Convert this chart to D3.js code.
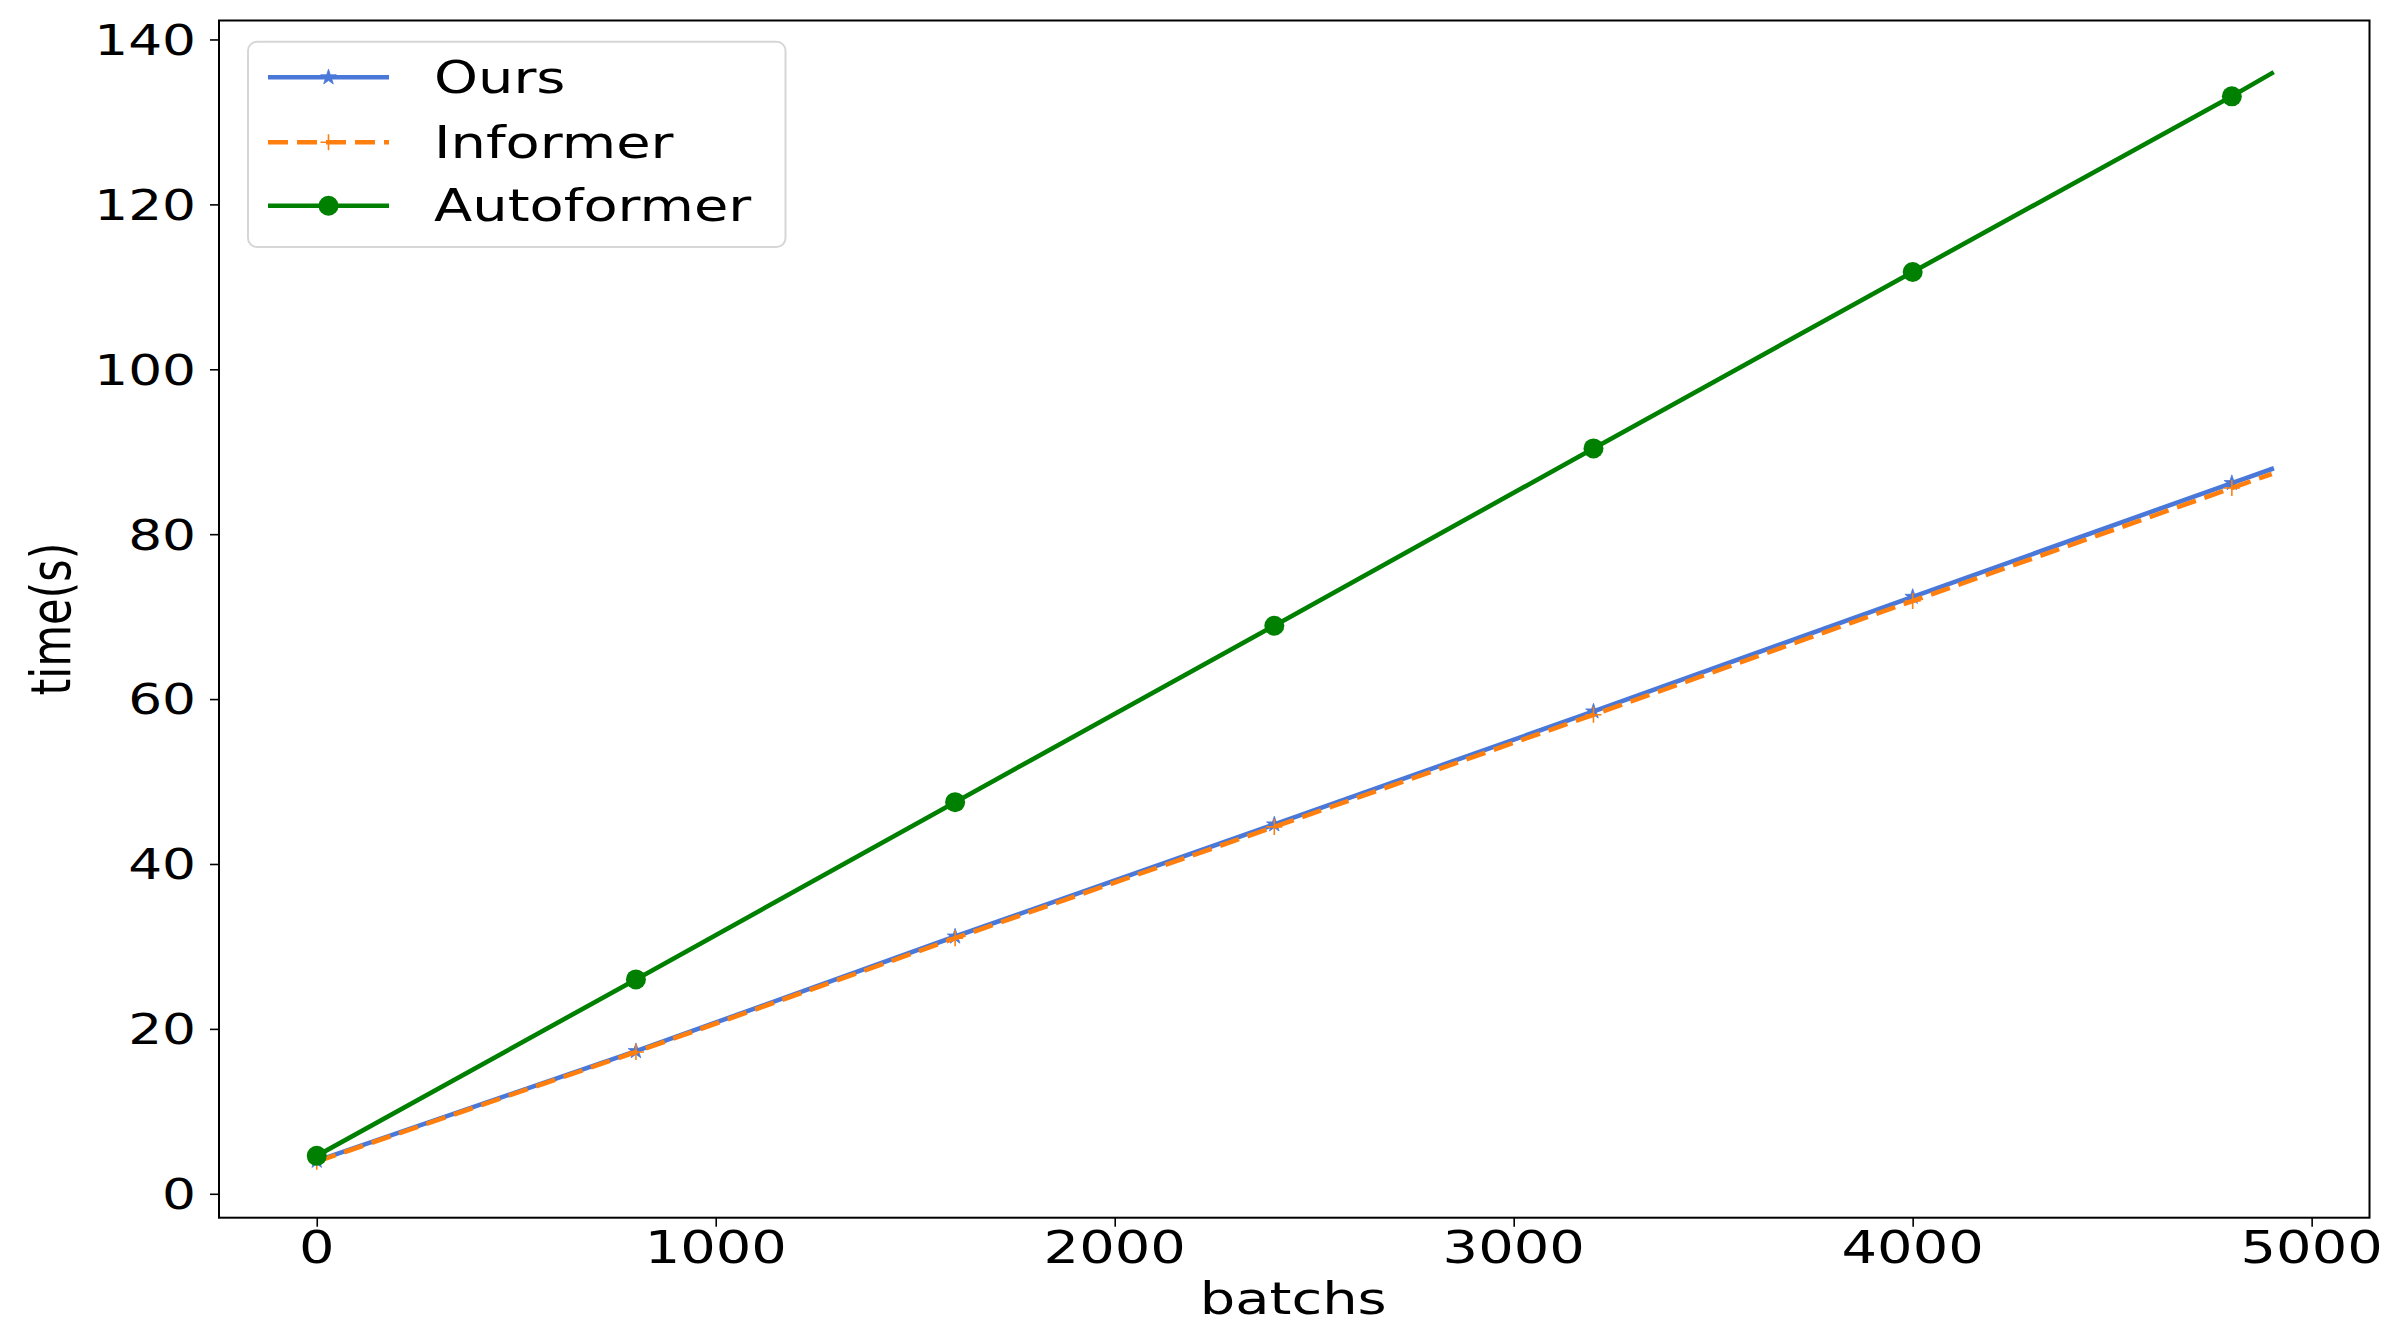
<!DOCTYPE html>
<html>
<head>
<meta charset="utf-8">
<script src="https://cdn.jsdelivr.net/npm/d3@7"></script>
<style>
  html, body { margin: 0; padding: 0; background: #fff; }
  svg { display: block; }
  text { font-family: "DejaVu Sans", sans-serif; fill: #000; }
</style>
</head>
<body>
<div id="chart"></div>
<script>
// ---- data ----
const batches    = [0, 800, 1600, 2400, 3200, 4000, 4800, 4900];
const ours       = [4.0, 17.3, 31.2, 44.8, 58.5, 72.4, 86.2, 87.9];
const informer   = [3.9, 17.2, 31.0, 44.5, 58.1, 71.9, 85.6, 87.3];
const autoformer = [4.6, 26.0, 47.5, 68.9, 90.4, 111.8, 133.1, 135.9];
const markerStep = 800;
const seriesNames = ["Ours", "Informer", "Autoformer"];
const xTicks = [0, 1000, 2000, 3000, 4000, 5000];
const yTicks = [0, 20, 40, 60, 80, 100, 120, 140];
const xLabel = "batchs";
const yLabel = "time(s)";

// ---- layout ----
const W = 2401, H = 1339;
const SX = 1.27; // horizontal stretch of the reference image (text)
const pL = 219, pR = 2369.5, pT = 20.5, pB = 1217.7;

const svg = d3.select("#chart").append("svg")
  .attr("width", W).attr("height", H);

const x = d3.scaleLinear().domain([-245, 5145]).range([pL, pR]);
const y = d3.scaleLinear().domain([-2.9, 142.3]).range([pB, pT]);

const series = [
  { name: seriesNames[0], values: ours, color: "#4a78d8", dash: null, marker: "star" },
  { name: seriesNames[1], values: informer, color: "#ff7f0e", dash: "20,9", marker: "plus" },
  { name: seriesNames[2], values: autoformer, color: "#008000", dash: null, marker: "circle" }
];

// axes (ticks only, labels drawn separately to apply stretch)
const xAxis = d3.axisBottom(x).tickValues(xTicks).tickSize(9).tickFormat("");
const yAxis = d3.axisLeft(y).tickValues(yTicks).tickSize(9).tickFormat("");
const gx = svg.append("g").attr("transform", `translate(0,${pB})`).call(xAxis);
const gy = svg.append("g").attr("transform", `translate(${pL},0)`).call(yAxis);
[gx, gy].forEach(g => {
  g.select(".domain").remove();
  g.selectAll(".tick line").attr("stroke", "#000").attr("stroke-width", 1.6);
});

// tick labels
svg.append("g").selectAll("g").data(xTicks).join("g")
  .attr("transform", d => `translate(${x(d)},${1263}) scale(${SX},1)`)
  .append("text").attr("text-anchor", "middle").attr("font-size", 44).text(d => d);

svg.append("g").selectAll("g").data(yTicks).join("g")
  .attr("transform", d => `translate(${196},${y(d)}) scale(${SX},1)`)
  .append("text").attr("text-anchor", "end").attr("dy", "0.365em").attr("font-size", 42).text(d => d);

// axis titles
svg.append("g").attr("transform", `translate(${(pL + pR) / 2 - 1},1314) scale(${SX},1)`)
  .append("text").attr("text-anchor", "middle").attr("font-size", 44).text(xLabel);
svg.append("g").attr("transform", `translate(70,${(pT + pB) / 2}) rotate(-90) scale(1,${SX})`)
  .append("text").attr("text-anchor", "middle").attr("font-size", 43).text(yLabel);

// clip
svg.append("clipPath").attr("id", "clip").append("rect")
  .attr("x", pL).attr("y", pT).attr("width", pR - pL).attr("height", pB - pT);

const plot = svg.append("g").attr("clip-path", "url(#clip)");
const line = d3.line().x(d => x(d[0])).y(d => y(d[1]));

const starSym = d3.symbol().type(d3.symbolStar).size(75);
const circleR = 10;

function drawMarker(g, s, cx, cy) {
  if (s.marker === "star") {
    g.append("path").attr("d", starSym()).attr("transform", `translate(${cx},${cy})`)
      .attr("fill", s.color).attr("stroke", s.color).attr("stroke-width", 0.8);
  } else if (s.marker === "plus") {
    const r = 8;
    g.append("path").attr("d", `M${cx - r},${cy}H${cx + r}M${cx},${cy - r}V${cy + r}`)
      .attr("stroke", s.color).attr("stroke-width", 1.6).attr("fill", "none");
  } else {
    g.append("circle").attr("cx", cx).attr("cy", cy).attr("r", circleR).attr("fill", s.color);
  }
}

series.forEach(s => {
  const pts = batches.map((b, i) => [b, s.values[i]]);
  plot.append("path").datum(pts).attr("d", line)
    .attr("fill", "none").attr("stroke", s.color).attr("stroke-width", 4.6)
    .attr("stroke-dasharray", s.dash).attr("stroke-linecap", s.dash ? "butt" : "square");
  pts.filter(p => p[0] % markerStep === 0).forEach(p => drawMarker(plot, s, x(p[0]), y(p[1])));
});

// frame
svg.append("rect").attr("x", pL).attr("y", pT).attr("width", pR - pL).attr("height", pB - pT)
  .attr("fill", "none").attr("stroke", "#000").attr("stroke-width", 2);

// legend
const lg = svg.append("g");
lg.append("rect").attr("x", 248).attr("y", 41.7).attr("width", 537.5).attr("height", 205.3)
  .attr("rx", 9).attr("fill", "#fff").attr("fill-opacity", 0.8)
  .attr("stroke", "#d6d6d6").attr("stroke-width", 2);
const rowY = [77.3, 142.3, 205.7];
series.forEach((s, i) => {
  lg.append("line").attr("x1", 268).attr("x2", 389).attr("y1", rowY[i]).attr("y2", rowY[i])
    .attr("stroke", s.color).attr("stroke-width", 4.6).attr("stroke-dasharray", s.dash);
  drawMarker(lg, s, 328.5, rowY[i]);
  lg.append("g").attr("transform", `translate(434,${rowY[i] + 15.5}) scale(${SX},1)`)
    .append("text").attr("font-size", 44).text(s.name);
});
</script>
</body>
</html>
